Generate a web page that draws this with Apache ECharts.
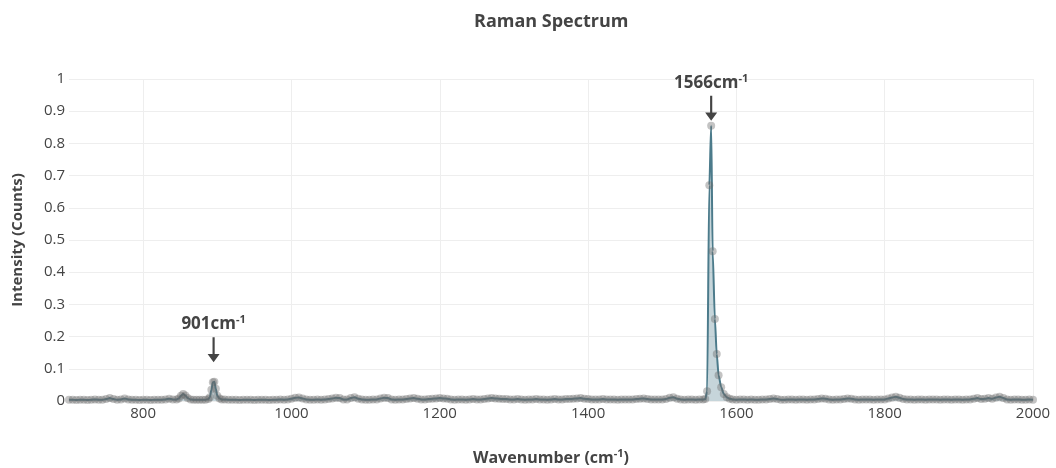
<!DOCTYPE html>
<html>
<head>
<meta charset="utf-8">
<script src="https://cdn.jsdelivr.net/npm/echarts@6/dist/echarts.min.js"></script>
<style>
html,body{margin:0;padding:0;background:#fff;}
#chart{width:1056px;height:468px;}
</style>
</head>
<body>
<div id="chart"></div>
<script>
const wavenumbers = [
  700,705,710,715,720,725,730,735,740,745,750,755,760,765,770,775,780,785,790,795,
  800,805,810,815,820,825,830,835,840,845,848,851,854,857,860,864,868,872,876,880,884,888,890,892,894,896,898,900,903,906,910,915,
  920,925,930,935,940,945,950,955,960,965,970,975,980,985,990,995,
  1000,1005,1010,1015,1020,1025,1030,1035,1040,1045,1050,1055,1060,1065,1070,1075,1080,1085,1090,1095,
  1100,1105,1110,1115,1120,1125,1130,1135,1140,1145,1150,1155,1160,1165,1170,1175,1180,1185,1190,1195,
  1200,1205,1210,1215,1220,1225,1230,1235,1240,1245,1250,1255,1260,1265,1270,1275,1280,1285,1290,1295,
  1300,1305,1310,1315,1320,1325,1330,1335,1340,1345,1350,1355,1360,1365,1370,1375,1380,1385,1390,1395,
  1400,1405,1410,1415,1420,1425,1430,1435,1440,1445,1450,1455,1460,1465,1470,1475,1480,1485,1490,1495,
  1500,1505,1510,1515,1520,1525,1530,1535,1540,1545,1550,1555,
  1558,1560.5,1563.5,1566,1568,1571,1573.5,1576,1579.5,1583,1587,1591,1595,
  1600,1605,1610,1615,1620,1625,1630,1635,1640,1645,1650,1655,1660,1665,1670,1675,1680,1685,1690,1695,
  1700,1705,1710,1715,1720,1725,1730,1735,1740,1745,1750,1755,1760,1765,1770,1775,1780,1785,1790,1795,
  1800,1805,1810,1815,1820,1825,1830,1835,1840,1845,1850,1855,1860,1865,1870,1875,1880,1885,1890,1895,
  1900,1905,1910,1915,1920,1925,1930,1935,1940,1945,1950,1955,1960,1965,1970,1975,1980,1985,1990,1995,2000
];
const intensity = [
  .004,.004,.003,.004,.004,.003,.004,.005,.004,.004,.006,.009,.006,.004,.005,.008,.005,.004,.004,.003,
  .004,.004,.003,.004,.004,.004,.005,.007,.005,.005,.008,.016,.022,.017,.009,.005,.004,.004,.004,.004,.004,.006,.012,.035,.058,.060,.038,.016,.008,.005,.005,.004,
  .004,.004,.003,.004,.004,.004,.003,.004,.004,.004,.003,.004,.004,.005,.004,.005,
  .007,.010,.011,.008,.005,.004,.004,.005,.004,.005,.006,.008,.010,.009,.005,.005,.009,.012,.007,.005,
  .004,.004,.005,.005,.008,.010,.009,.005,.004,.005,.005,.006,.008,.009,.007,.005,.005,.006,.007,.008,
  .009,.008,.007,.005,.004,.005,.005,.004,.005,.006,.005,.005,.006,.008,.009,.008,.007,.006,.006,.005,
  .005,.006,.005,.004,.005,.005,.006,.005,.005,.004,.005,.006,.005,.005,.006,.006,.007,.008,.009,.007,
  .006,.005,.005,.005,.006,.005,.005,.005,.004,.005,.005,.005,.005,.006,.007,.008,.006,.005,.005,.005,
  .005,.006,.010,.012,.007,.005,.004,.005,.005,.004,.005,.005,
  .006,.030,.670,.855,.465,.255,.146,.080,.043,.022,.012,.007,.005,
  .004,.005,.005,.004,.005,.004,.004,.005,.005,.006,.008,.006,.004,.004,.005,.005,.004,.005,.005,.004,
  .005,.005,.006,.008,.007,.005,.004,.005,.005,.006,.008,.007,.005,.004,.005,.005,.005,.004,.005,.005,
  .005,.008,.011,.013,.010,.006,.005,.005,.004,.005,.005,.004,.005,.005,.005,.004,.005,.005,.004,.005,
  .005,.004,.005,.005,.007,.009,.006,.007,.009,.007,.011,.013,.009,.005,.004,.005,.005,.004,.004,.005,.004
];
const xTicks = [800,1000,1200,1400,1600,1800,2000];
const annotX = [895, 1566];
const annotY = [0.12, 0.87];
const annotText = ['901', '1566'];

const seriesData = wavenumbers.map((w, i) => [w, intensity[i]]);
const FONT = '"Open Sans", "Noto Sans", sans-serif';

const chart = echarts.init(document.getElementById('chart'), null, {renderer: 'canvas'});
chart.setOption({
  animation: false,
  backgroundColor: '#fff',
  textStyle: {fontFamily: FONT},
  title: {
    text: 'Raman Spectrum',
    left: 469, top: 8,
    textStyle: {fontFamily: FONT, fontSize: 18, fontWeight: 'bold', color: '#444'}
  },
  grid: {left: 69, right: 23, top: 79, bottom: 67, containLabel: false, outerBoundsMode: 'none'},
  xAxis: {
    type: 'value', min: 700, max: 2000,
    name: '{a|Wavenumber (cm}{s|-1}{a|)}',
    nameLocation: 'middle', nameGap: 47,
    nameTextStyle: {
      rich: {
        a: {fontFamily: FONT, fontSize: 16, fontWeight: 'bold', color: '#444', lineHeight: 20},
        s: {fontFamily: FONT, fontSize: 11, fontWeight: 'bold', color: '#444', verticalAlign: 'top', lineHeight: 20, padding: [0,0,8,0]}
      }
    },
    axisLine: {show: false},
    axisTick: {show: false, customValues: xTicks},
    axisLabel: {customValues: xTicks, fontFamily: FONT, fontSize: 15, color: '#444', margin: 5,
      formatter: v => String(v)},
    splitLine: {show: true, lineStyle: {color: '#eeeeee', width: 1}}
  },
  yAxis: {
    type: 'value', min: 0, max: 1, interval: 0.1,
    name: 'Intensity (Counts)',
    nameLocation: 'middle', nameGap: 44,
    nameTextStyle: {fontFamily: FONT, fontSize: 15, fontWeight: 'bold', color: '#444'},
    axisLine: {show: false},
    axisTick: {show: false},
    axisLabel: {fontFamily: FONT, fontSize: 15, color: '#444', margin: 4,
      formatter: v => String(Math.round(v * 10) / 10)},
    splitLine: {show: true, lineStyle: {color: '#eeeeee', width: 1}}
  },
  series: [{
    type: 'line',
    data: seriesData,
    smooth: 0.25,
    smoothMonotone: 'x',
    symbol: 'circle',
    symbolSize: 8,
    showSymbol: true,
    lineStyle: {color: '#4c7b8b', width: 2},
    itemStyle: {color: 'rgba(105,105,105,0.4)', borderWidth: 0},
    areaStyle: {color: 'rgba(76,123,139,0.45)'},
    z: 2,
    markPoint: {
      silent: true,
      symbol: 'path://M4.1,0 L5.9,0 L5.9,16 L10,16 L5,24 L0,16 L4.1,16 Z',
      symbolSize: [12, 25],
      symbolOffset: [0, '-50%'],
      itemStyle: {color: '#444'},
      label: {
        show: true, position: 'top', distance: 3,
        formatter: p => '{a|' + p.name + 'cm}{s|-1}',
        rich: {
          a: {fontFamily: FONT, fontSize: 17, fontWeight: 'bold', color: '#444', lineHeight: 20},
          s: {fontFamily: FONT, fontSize: 11, fontWeight: 'bold', color: '#444', verticalAlign: 'top', lineHeight: 20, padding: [0,0,9,0]}
        }
      },
      data: annotX.map((x, i) => ({name: annotText[i], coord: [x, annotY[i]]}))
    }
  }]
});
</script>
</body>
</html>
